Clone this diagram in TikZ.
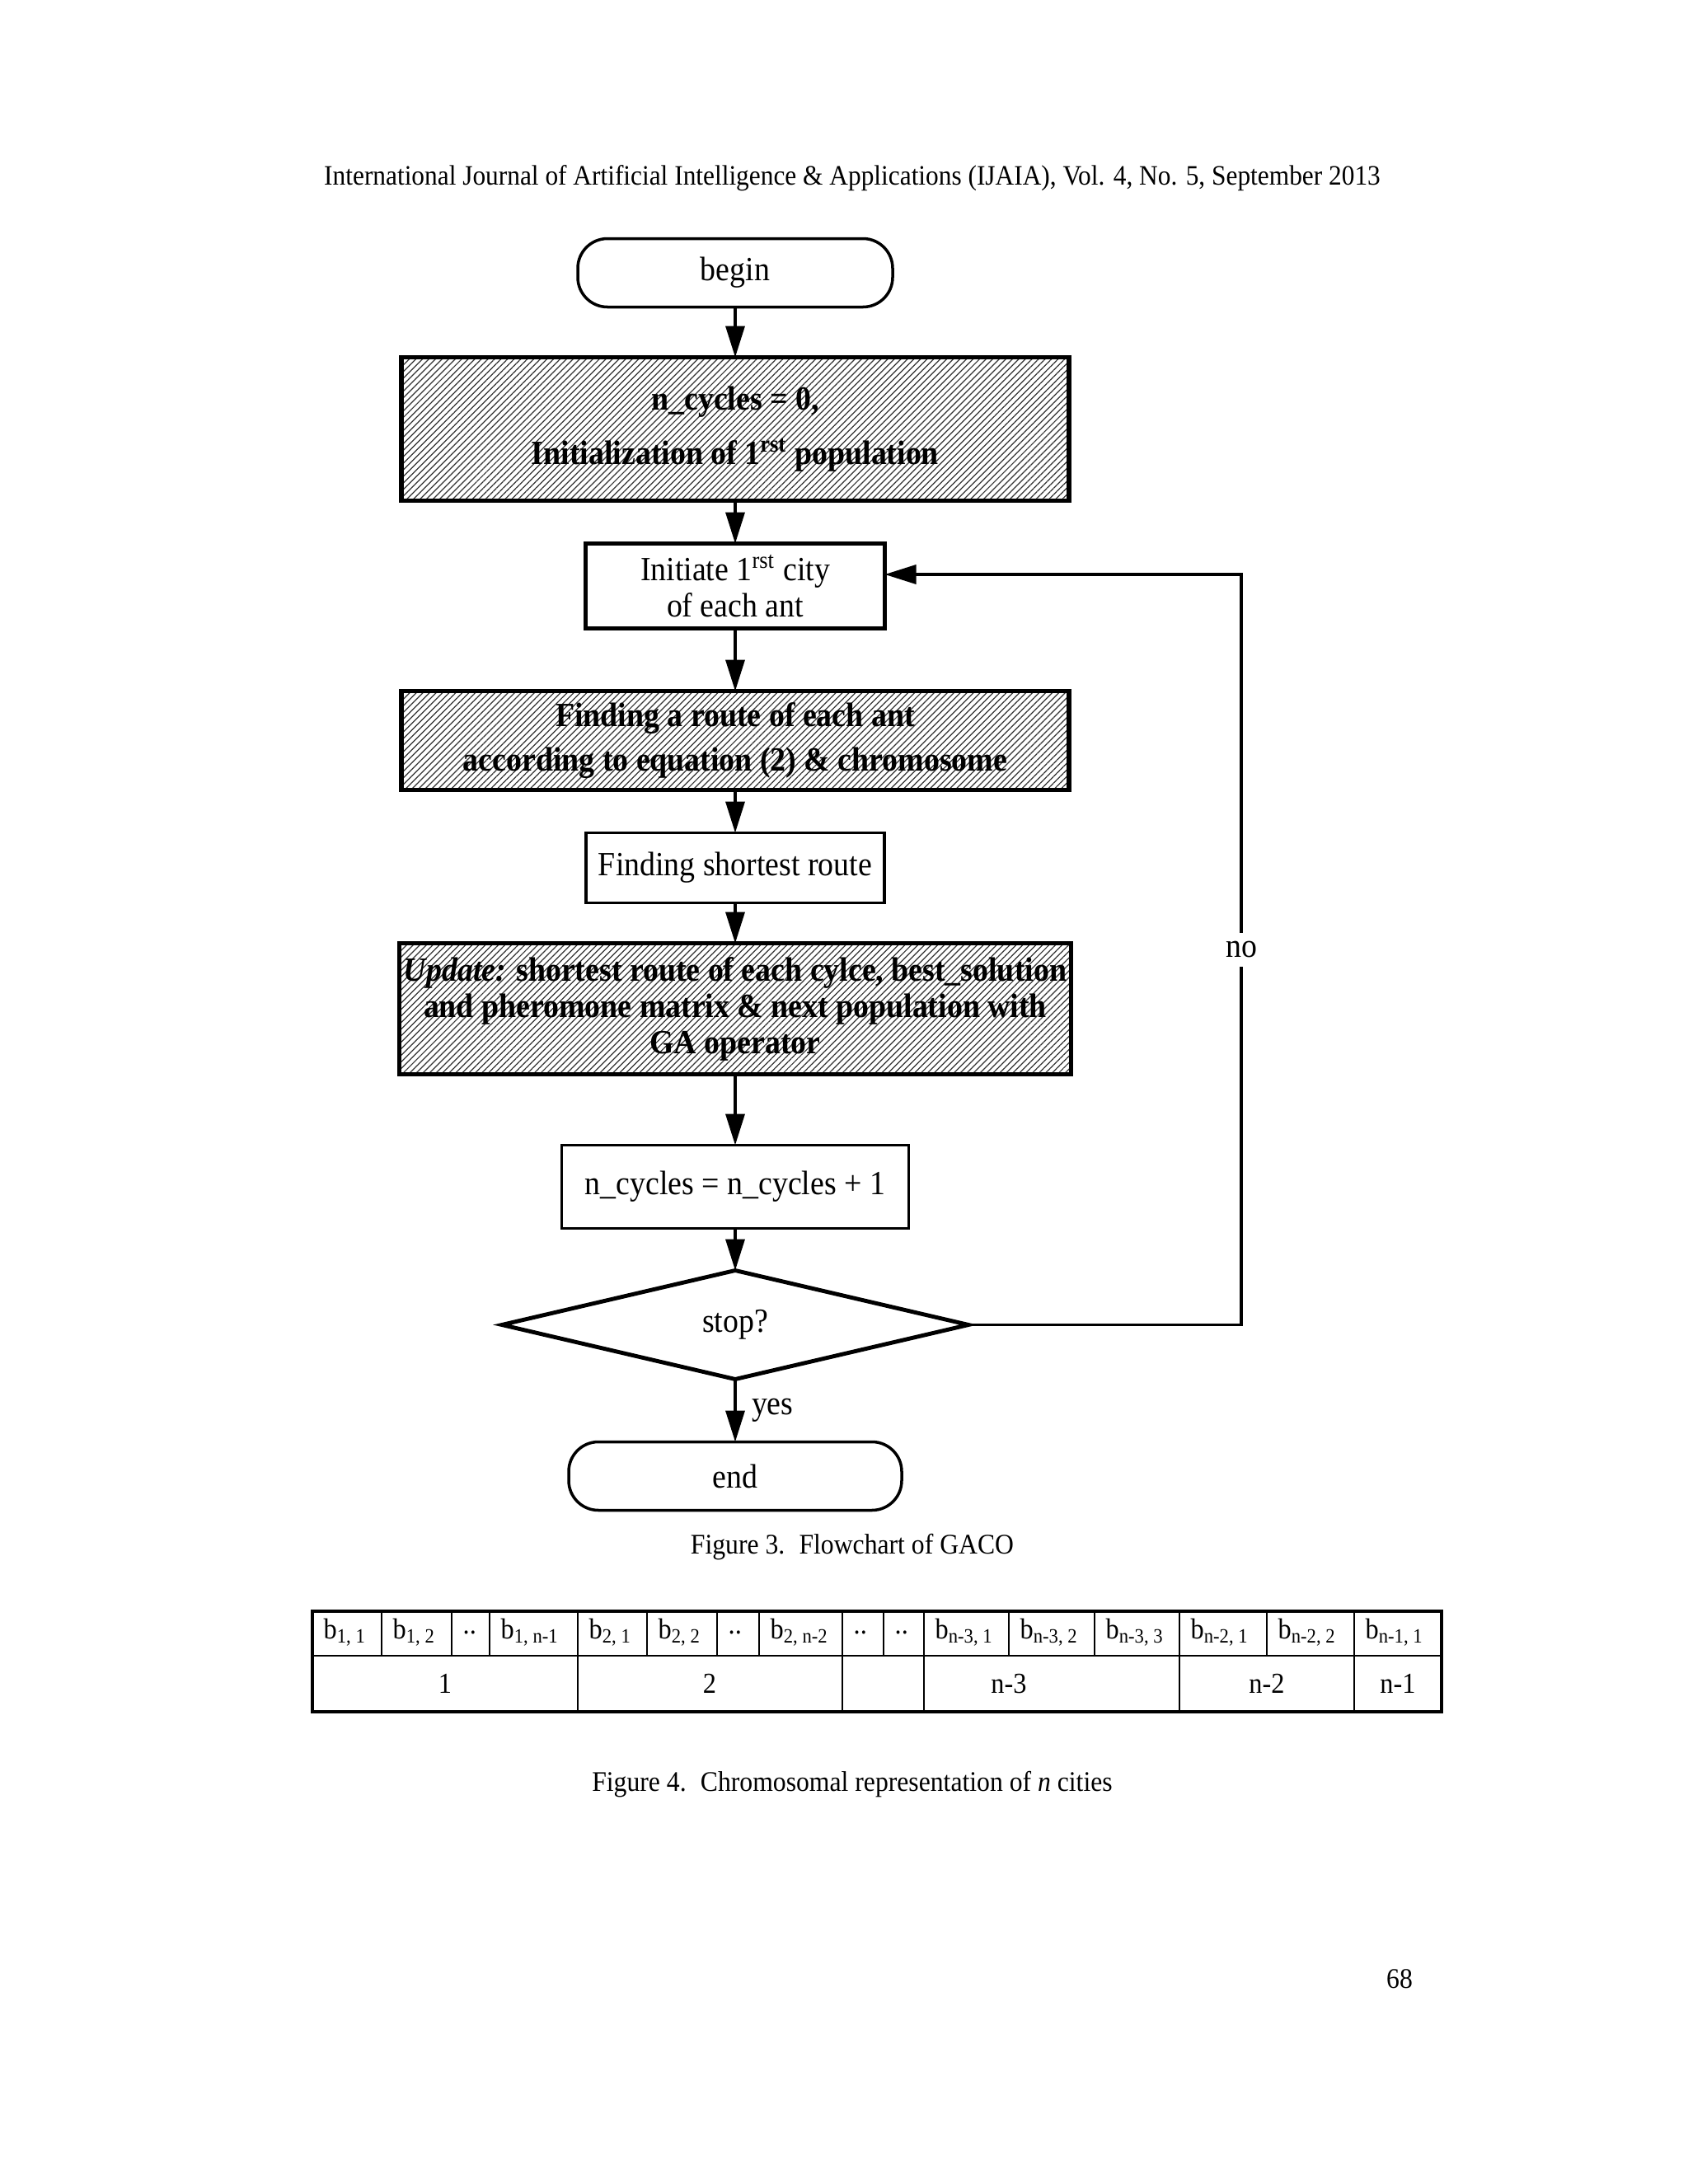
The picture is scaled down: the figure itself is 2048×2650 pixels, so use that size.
\documentclass[tikz,border=0pt]{standalone}
\usepackage{fontspec}
\setmainfont[FakeStretch=0.92]{Liberation Serif}
\usepackage{tikz}
\usetikzlibrary{shapes.geometric,arrows.meta,positioning,patterns.meta}

\begin{document}
\begin{tikzpicture}[
  x=0.1mm, y=-0.1mm,
  node distance=5mm,
  flow/.style={font=\fontsize{11.7}{12.5}\selectfont, align=center, inner sep=0pt, outer sep=0pt},
  terminal/.style={flow, draw, line width=1pt, rounded corners=3.6mm,
    minimum width=38.2mm, minimum height=8.3mm},
  hatched/.style={flow, draw, line width=1.5pt, minimum width=81mm,
    font=\fontsize{11.7}{12.5}\selectfont\bfseries,
    pattern={Lines[angle=45,distance=1.6pt,line width=0.35pt]}, pattern color=black!80},
  process/.style={flow, draw, line width=0.8pt},
  decision/.style={flow, draw, diamond, line width=1.4pt,
    minimum width=56.6mm, minimum height=13.2mm},
  arrow/.style={-{Triangle[length=3.8mm,width=2.3mm]}, line width=1pt},
  caption/.style={font=\fontsize{9.8}{11}\selectfont},
  cell/.style={draw, line width=0.5pt},
  celltext/.style={font=\fontsize{10}{12}\selectfont, inner sep=0pt},
]
  \fill[white] (0,0) rectangle (2048,2650);

  % Page header
  \node[font=\fontsize{9.7}{11}\selectfont] (header) at (1034,216)
    {International Journal of Artificial Intelligence \& Applications (IJAIA), Vol. 4, No. 5, September 2013};

  % Flowchart boxes
  \node[terminal] (begin) at (892,331) {begin};
  \node[hatched, minimum height=17.4mm, below=6.1mm of begin] (init) {
    n\_cycles = 0,\\[6.3pt]
    Initialization of 1\textsuperscript{rst} population
  };
  \node[process, line width=1.4pt, minimum width=36.3mm, minimum height=10.3mm,
    below=5.2mm of init] (first) {
    Initiate 1\textsuperscript{rst} city\\
    of each ant
  };
  \node[hatched, minimum height=12mm, below=7.6mm of first] (route) {
    Finding a route of each ant\\[2.8pt]
    according to equation (2) \& chromosome
  };
  \node[process, line width=1pt, minimum width=36.2mm, minimum height=8.5mm,
    below=5.2mm of route] (short) {Finding shortest route};
  \node[hatched, minimum width=81.5mm, minimum height=15.9mm, below=4.9mm of short] (update) {
    \textit{Update:} shortest route of each cylce, best\_solution\\
    and pheromone matrix \& next population with\\
    GA operator
  };
  \node[process, line width=0.6pt, minimum width=42.1mm, minimum height=10.1mm,
    below=8.6mm of update] (incr) {n\_cycles = n\_cycles + 1};
  \node[decision, below=5.1mm of incr] (stop) {stop?};
  \node[terminal, minimum width=40.4mm, below=7.6mm of stop] (end) {end};
  \coordinate (loop) at (1506,696);
  \coordinate (entry) at ([yshift=1.4mm]first.east);

  % Arrows
  \draw[arrow] (begin) -- (init);
  \draw[arrow] (init) -- (first);
  \draw[arrow] (first) -- (route);
  \draw[arrow] (route) -- (short);
  \draw[arrow] (short) -- (update);
  \draw[arrow] (update) -- (incr);
  \draw[arrow] (incr) -- (stop);
  \draw[arrow] (stop) -- node[flow, right=2mm] (yes) {yes} (end);
  \draw[arrow] (stop.east) -| node[flow, pos=0.75, fill=white, inner sep=3pt] (no) {no}
    (loop |- entry) -- (entry);

  \node[caption] (cap3) at (1034,1877) {Figure 3.\hspace{0.5em}Flowchart of GACO};

  % Chromosome table
  \foreach \xa/\xb/\txt [count=\i] in {
    379/463/{b\textsubscript{1, 1}}, 463/548/{b\textsubscript{1, 2}}, 548/594/{..},
    594/701/{b\textsubscript{1, n-1}}, 701/785/{b\textsubscript{2, 1}},
    785/870/{b\textsubscript{2, 2}}, 870/921/{..}, 921/1022/{b\textsubscript{2, n-2}},
    1022/1072/{..}, 1072/1121/{..}, 1121/1224/{b\textsubscript{n-3, 1}},
    1224/1328/{b\textsubscript{n-3, 2}}, 1328/1431/{b\textsubscript{n-3, 3}},
    1431/1537/{b\textsubscript{n-2, 1}}, 1537/1643/{b\textsubscript{n-2, 2}},
    1643/1749/{b\textsubscript{n-1, 1}}} {
    \draw[cell] (\xa,1955) rectangle (\xb,2009);
    \node[celltext, anchor=west] (b\i) at (\xa+13,1981) {\txt};
  }
  \foreach \xa/\xb/\xt/\txt [count=\i] in {
    379/701/540/1, 701/1022/861/2, 1022/1121/1071/{}, 1121/1431/1224/n-3,
    1431/1643/1537/n-2, 1643/1749/1696/n-1} {
    \draw[cell] (\xa,2009) rectangle (\xb,2077);
    \node[celltext] (g\i) at (\xt,2043) {\txt};
  }
  \draw[line width=0.9pt] (379,1955) rectangle (1749,2077);

  \node[caption] (cap4) at (1034,2165)
    {Figure 4.\hspace{0.5em}Chromosomal representation of \textit{n} cities};
  \node[caption] (page) at (1698,2401) {68};
\end{tikzpicture}
\end{document}
